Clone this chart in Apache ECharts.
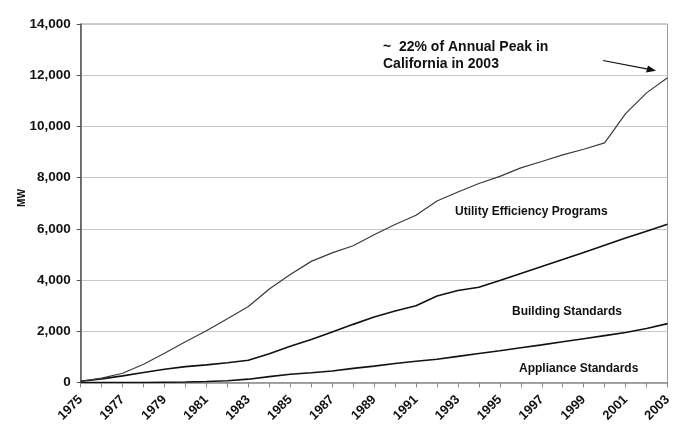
<!DOCTYPE html>
<html><head><meta charset="utf-8">
<script src="https://cdn.jsdelivr.net/npm/echarts@6/dist/echarts.min.js"></script>
<style>html,body{margin:0;padding:0;background:#fff}#c{width:687px;height:438px}</style>
</head><body><div id="c"></div>
<script>
var years = ['1975','1976','1977','1978','1979','1980','1981','1982','1983','1984','1985','1986','1987','1988','1989','1990','1991','1992','1993','1994','1995','1996','1997','1998','1999','2000','2001','2002','2003'];
// cumulative MW (stack tops)
var applianceTop = [0,0,0,0,10,20,40,70,130,230,320,380,450,550,640,740,830,910,1020,1130,1240,1360,1470,1590,1710,1830,1950,2110,2300];
var buildingTop  = [50,140,260,390,520,620,690,770,870,1120,1420,1680,1970,2270,2560,2790,3000,3380,3590,3720,3980,4260,4530,4800,5080,5360,5640,5910,6180];
var utilityTop   = [50,170,360,710,1140,1590,2020,2490,2970,3650,4220,4730,5060,5340,5770,6170,6530,7090,7440,7770,8050,8380,8630,8890,9110,9360,10500,11310,11900];
var yTicks = [0,2000,4000,6000,8000,10000,12000,14000];

var FONT = 'Liberation Sans, Arial, sans-serif';
var chart = echarts.init(document.getElementById('c'));
chart.setOption({
  animation:false,
  grid:{left:80.7, right:19.5, top:24, bottom:55.5, show:true, borderColor:'#9a9a9a', borderWidth:1},
  xAxis:{type:'category', data:years, boundaryGap:false,
    axisLine:{lineStyle:{color:'#888', width:1.5}},
    axisTick:{show:true, interval:0, length:5, lineStyle:{color:'#888'}},
    axisLabel:{interval:1, rotate:45, fontSize:13, margin:15, fontFamily:FONT, fontWeight:'bold', color:'#111'},
    splitLine:{show:false}},
  yAxis:{type:'value', min:yTicks[0], max:yTicks[yTicks.length-1], interval:2000,
    axisLine:{show:true, lineStyle:{color:'#555', width:1.5}},
    axisTick:{show:true, length:4, lineStyle:{color:'#555'}},
    axisLabel:{fontSize:13.5, margin:10, fontFamily:FONT, fontWeight:'bold', color:'#111',
      formatter:function(v){return v.toLocaleString('en-US');}},
    splitLine:{lineStyle:{color:'#c8c8c8', width:1}}},
  series:[
    {name:'Appliance Standards', type:'line', data:applianceTop, symbol:'none', lineStyle:{color:'#111', width:1.6}},
    {name:'Building Standards', type:'line', data:buildingTop, symbol:'none', lineStyle:{color:'#111', width:1.6}},
    {name:'Utility Efficiency Programs', type:'line', data:utilityTop, symbol:'none', lineStyle:{color:'#3a3a3a', width:1.2}}
  ],
  graphic:[
    {type:'text', x:22, y:198, rotation:Math.PI/2, style:{text:'MW', fontSize:10, fill:'#111', fontFamily:FONT, fontWeight:'bold', align:'center', verticalAlign:'middle'}},
    {type:'text', left:455, top:206, style:{text:'Utility Efficiency Programs', fontSize:12, fill:'#111', fontFamily:FONT, fontWeight:'bold'}},
    {type:'text', left:512, top:306, style:{text:'Building Standards', fontSize:12, fill:'#111', fontFamily:FONT, fontWeight:'bold'}},
    {type:'text', left:519, top:363, style:{text:'Appliance Standards', fontSize:12, fill:'#111', fontFamily:FONT, fontWeight:'bold'}},
    {type:'text', left:383, top:38, style:{text:'~  22% of Annual Peak in\nCalifornia in 2003', fontSize:14, lineHeight:17.5, fill:'#111', fontFamily:FONT, fontWeight:'bold'}},
    {type:'line', shape:{x1:603, y1:60.5, x2:648, y2:69.2}, style:{stroke:'#111', lineWidth:1.2}},
    {type:'polygon', shape:{points:[[656,70.8],[646,72.5],[648,65.6]]}, style:{fill:'#111'}}
  ]
});
</script></body></html>
